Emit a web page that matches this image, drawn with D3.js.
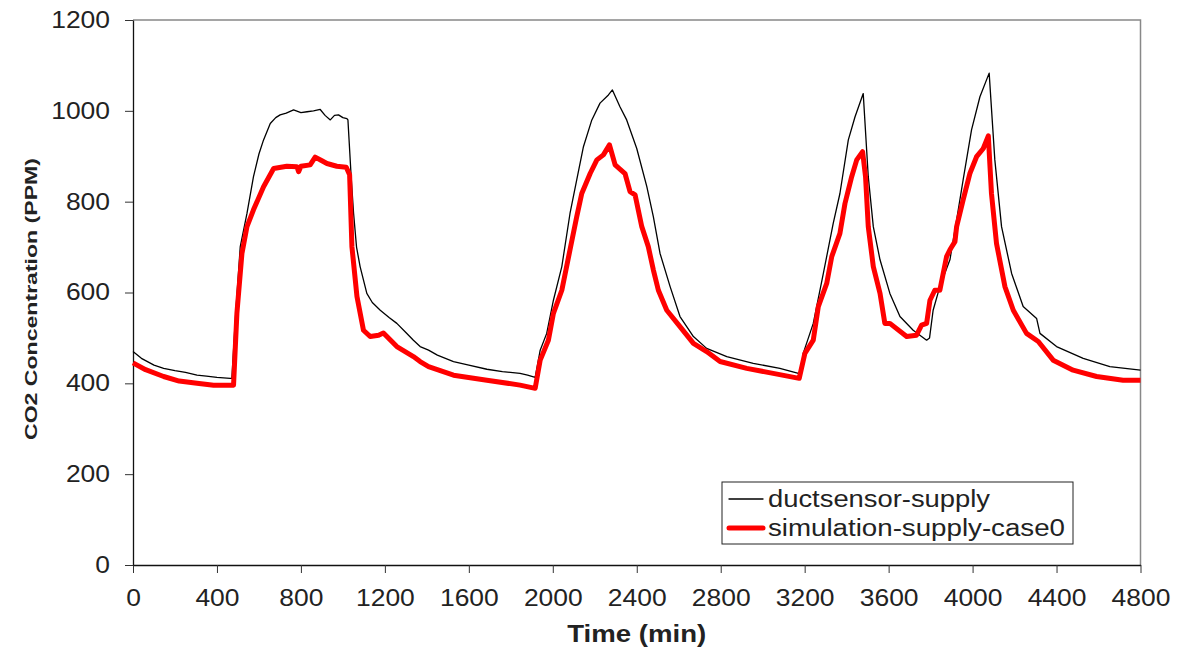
<!DOCTYPE html>
<html>
<head>
<meta charset="utf-8">
<script src="https://cdn.jsdelivr.net/npm/d3@7"></script>
<style>
  body { margin: 0; background: #fff; }
  text { font-family: "Liberation Sans", Arial, sans-serif; fill: #222; }
</style>
</head>
<body>
<div id="chart"></div>
<script>
// values (time in min, CO2 in ppm)
const ductTime = [0, 40, 100, 146, 200, 250, 305, 350, 400, 463, 471,
  490, 511, 543, 574, 600, 622, 654, 680, 701, 730, 765, 800, 829, 860, 892, 915, 940, 960, 979, 1000, 1019, 1024,
  1040, 1051, 1065, 1082, 1114, 1140, 1178, 1220, 1257, 1300, 1336, 1368, 1408, 1450, 1527, 1600, 1686, 1760, 1844, 1880, 1916,
  1940, 1971, 2003, 2043, 2082, 2114, 2146, 2186, 2225, 2265, 2284, 2320, 2352, 2400, 2448, 2479, 2511, 2559, 2606,
  2670, 2733, 2829, 2955, 3082, 3170, 3185,
  3193, 3241, 3289, 3336, 3368, 3408, 3440, 3479, 3503, 3527, 3559, 3606, 3654, 3717, 3781, 3795,
  3812, 3844, 3892, 3924, 3955, 3995, 4035, 4079, 4106, 4138, 4186, 4241, 4305, 4321, 4400, 4527, 4654, 4800];
const ductCO2 = [470, 455, 440, 433, 428, 424, 418, 416, 413, 411, 411,
  560, 701, 774, 855, 905, 936, 972, 985, 991, 995, 1002, 996, 998, 1000, 1003, 990, 980, 990, 991, 985, 983, 980,
  850, 774, 700, 657, 598, 578, 561, 545, 532, 512, 495, 481, 473, 462, 448, 440, 431, 426, 422, 418, 413,
  473, 510, 583, 657, 774, 848, 921, 980, 1017, 1035, 1046, 1009, 980, 917, 833, 767, 686, 613, 547,
  503, 477, 459, 444, 433, 422, 425,
  466, 532, 642, 752, 818, 936, 987, 1038, 855, 745, 672, 598, 547, 517, 495, 500,
  561, 613, 672, 760, 848, 958, 1031, 1083, 892, 745, 642, 569, 543, 510, 481, 455, 437, 429];

const simTime = [0, 60, 146, 220, 305, 384, 479,
  495, 519, 543, 574, 622, 670, 733, 781, 789, 800, 844, 868, 900, 924, 971, 1016,
  1032, 1043, 1067, 1098, 1130, 1170, 1193, 1257, 1336, 1368, 1408, 1527, 1686, 1844, 1916,
  1940, 1979, 2003, 2043, 2082, 2114, 2138, 2178, 2210, 2241, 2270, 2297, 2344, 2368, 2392, 2424, 2455, 2479,
  2503, 2543, 2606, 2670, 2733, 2797, 2924, 3050, 3174,
  3201, 3241, 3265, 3305, 3329, 3368, 3392, 3424, 3448, 3476, 3490, 3503, 3527, 3559, 3582, 3606, 3686, 3733,
  3757, 3781, 3797, 3820, 3844, 3876, 3892, 3916, 3924, 3955, 3987, 4019, 4051, 4075,
  4090, 4114, 4154, 4194, 4257, 4313, 4384, 4479, 4591, 4717, 4800];
const simCO2 = [445, 430, 415, 405, 400, 396, 396,
  554, 686, 745, 782, 833, 873, 878, 877, 866, 878, 881, 898, 890, 884, 878, 876,
  859, 701, 591, 517, 503, 506, 511, 481, 459, 448, 437, 418, 407, 396, 389,
  451, 495, 554, 605, 694, 767, 818, 862, 892, 903, 925, 881, 862, 822, 815, 745, 701, 650,
  605, 561, 525, 488, 470, 448, 433, 422, 411,
  466, 495, 569, 620, 679, 730, 796, 855, 892, 910, 855, 745, 657, 598, 532, 532, 503, 506,
  528, 532, 583, 605, 605, 679, 694, 712, 745, 804, 862, 899, 917, 945,
  818, 708, 613, 561, 510, 492, 451, 429, 415, 407, 407];

const xTicks = d3.range(0, 4801, 400);
const yTicks = d3.range(0, 1201, 200);
const seriesNames = ["ductsensor-supply", "simulation-supply-case0"];

const width = 1184, height = 651;
const margin = {top: 20, right: 43.5, bottom: 86, left: 133};

const svg = d3.select("#chart").append("svg")
  .attr("width", width)
  .attr("height", height);

const x = d3.scaleLinear().domain([0, 4800]).range([margin.left, width - margin.right]);
const y = d3.scaleLinear().domain([0, 1200]).range([height - margin.bottom, margin.top]);

// plot frame (grey top/right)
svg.append("path")
  .attr("d", `M${x(0)},${y(1200)}H${x(4800)}V${y(0)}`)
  .attr("fill", "none")
  .attr("stroke", "#888")
  .attr("stroke-width", 1.5);

const digitW = 14.7;

const xAxis = svg.append("g")
  .attr("transform", `translate(0,${y(0)})`)
  .call(d3.axisBottom(x).tickValues(xTicks).tickFormat(d3.format("d")).tickSize(8).tickPadding(17).tickSizeOuter(0));
const yAxis = svg.append("g")
  .attr("transform", `translate(${x(0)},0)`)
  .call(d3.axisLeft(y).tickValues(yTicks).tickFormat(d3.format("d")).tickSize(8).tickPadding(15).tickSizeOuter(0));

[xAxis, yAxis].forEach(g => {
  g.select(".domain").attr("stroke", "#111").attr("stroke-width", 1.3);
  g.selectAll(".tick line").attr("stroke", "#333").attr("stroke-width", 1);
  g.selectAll(".tick text")
    .style("font-size", "23px")
    .style("font-family", "'Liberation Sans', Arial, sans-serif")
    .attr("fill", "#222")
    .attr("textLength", d => String(d).length * digitW)
    .attr("lengthAdjust", "spacingAndGlyphs");
});

// axis titles
svg.append("text")
  .attr("x", (x(0) + x(4800)) / 2)
  .attr("y", 642)
  .attr("text-anchor", "middle")
  .style("font-size", "23px")
  .style("font-weight", "bold")
  .attr("textLength", 139)
  .attr("lengthAdjust", "spacingAndGlyphs")
  .text("Time (min)");

svg.append("text")
  .attr("transform", `translate(37,299) rotate(-90)`)
  .attr("text-anchor", "middle")
  .style("font-size", "17px")
  .style("font-weight", "bold")
  .attr("textLength", 282)
  .attr("lengthAdjust", "spacingAndGlyphs")
  .text("CO2 Concentration (PPM)");

// lines
const duct = ductTime.map((t, i) => ({t, v: ductCO2[i]}));
const sim = simTime.map((t, i) => ({t, v: simCO2[i]}));
const line = d3.line().x(d => x(d.t)).y(d => y(d.v));

svg.append("path")
  .datum(duct)
  .attr("d", line)
  .attr("fill", "none")
  .attr("stroke", "#000")
  .attr("stroke-width", 1.3)
  .attr("stroke-linejoin", "round");

svg.append("path")
  .datum(sim)
  .attr("d", line)
  .attr("fill", "none")
  .attr("stroke", "#ff0000")
  .attr("stroke-width", 5)
  .attr("stroke-linejoin", "round");

// legend
const legend = svg.append("g").attr("transform", "translate(722,482)");
legend.append("rect")
  .attr("width", 351)
  .attr("height", 62)
  .attr("fill", "#fff")
  .attr("stroke", "#222")
  .attr("stroke-width", 1);

const legendStyle = [
  {color: "#000", w: 1.3, len: 222},
  {color: "#ff0000", w: 5, len: 297}
];
seriesNames.forEach((name, i) => {
  const ly = 17 + i * 29;
  legend.append("line")
    .attr("x1", 7).attr("x2", 41)
    .attr("y1", ly).attr("y2", ly)
    .attr("stroke", legendStyle[i].color)
    .attr("stroke-width", legendStyle[i].w)
    .attr("stroke-linecap", "round");
  legend.append("text")
    .attr("x", 46)
    .attr("y", ly + 8)
    .style("font-size", "23px")
    .attr("textLength", legendStyle[i].len)
    .attr("lengthAdjust", "spacingAndGlyphs")
    .text(name);
});
</script>
</body>
</html>
